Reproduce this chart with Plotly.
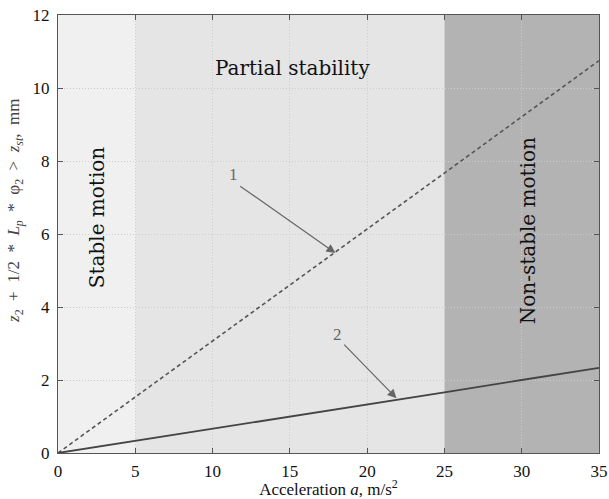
import plotly.graph_objects as go

accel = [0, 5, 10, 15, 20, 25, 30, 35]
curve1 = [0, 1.53, 3.07, 4.60, 6.14, 7.67, 9.21, 10.75]
curve2 = [0, 0.33, 0.67, 1.00, 1.33, 1.66, 2.00, 2.33]

regions = [(0, 5, "#f0f0f0"), (5, 25, "#e5e5e5"), (25, 35, "#b3b3b3")]
x_ticks = [0, 5, 10, 15, 20, 25, 30, 35]
y_ticks = [0, 2, 4, 6, 8, 10, 12]

SERIF = "Liberation Serif"
SERIF2 = "DejaVu Serif"

fig = go.Figure()
fig.add_trace(go.Scatter(x=accel, y=curve1, mode="lines",
                         line=dict(color="#555555", width=1.6, dash="4px,3px"),
                         showlegend=False, hoverinfo="skip"))
fig.add_trace(go.Scatter(x=accel, y=curve2, mode="lines",
                         line=dict(color="#444444", width=1.8),
                         showlegend=False, hoverinfo="skip"))

for x0, x1, c in regions:
    fig.add_shape(type="rect", x0=x0, x1=x1, y0=0, y1=12, xref="x", yref="y",
                  fillcolor=c, line=dict(width=0), layer="below")

# arrows
arrows = [((11.69, 7.34), (17.95, 5.48)), ((18.42, 3.01), (21.9, 1.50))]
for (tx, ty), (hx, hy) in arrows:
    fig.add_annotation(x=hx, y=hy, ax=tx, ay=ty, xref="x", yref="y",
                       axref="x", ayref="y", text="", showarrow=True,
                       arrowhead=2, arrowsize=1.5, arrowwidth=1.2,
                       arrowcolor="#666666", standoff=0)

labels = [(11.34, 7.62, "1", SERIF, 17, 0, "#666666"),
          (18.08, 3.26, "2", SERIF, 17, 0, "#666666"),
          (15.2, 10.56, "Partial stability", SERIF2, 20, 0, "#111111"),
          (2.5, 6.45, "Stable motion", SERIF2, 20, -90, "#111111"),
          (30.4, 6.1, "Non-stable motion", SERIF2, 20, -90, "#111111")]
for x, y, t, fam, s, ang, col in labels:
    fig.add_annotation(x=x, y=y, xref="x", yref="y", text=t, showarrow=False,
                       textangle=ang, font=dict(family=fam, size=s, color=col))

# y-axis title (placed as in the reference, slightly above centre)
ytitle = ("<i>z</i><sub>2</sub>&nbsp; +&nbsp; 1/2&nbsp; *&nbsp; <i>L<sub>p</sub></i>&nbsp; *&nbsp; "
          "φ<sub>2</sub>&nbsp; &gt;&nbsp; <i>z<sub>st</sub></i>,&nbsp; mm")
fig.add_annotation(x=-0.0795, y=0.5525, xref="paper", yref="paper", text=ytitle,
                   showarrow=False, textangle=-90, xanchor="center", yanchor="middle",
                   font=dict(family=SERIF, size=17, color="#444444"))

axis_common = dict(showline=True, linecolor="#555555", linewidth=1.2, mirror="ticks",
                   ticks="inside", ticklen=5, tickcolor="#555555",
                   showgrid=True, gridcolor="#cccccc", griddash="1px,2px", gridwidth=1,
                   zeroline=False, automargin=False,
                   tickfont=dict(family=SERIF, size=17, color="#111111"))

fig.update_xaxes(range=[0, 35], tickvals=x_ticks, ticklabelstandoff=2,
                 title=dict(text="Acceleration <i>a</i>, m/s<sup>2</sup>",
                            font=dict(family=SERIF, size=17, color="#111111"), standoff=2),
                 **axis_common)
fig.update_yaxes(range=[0, 12], tickvals=y_ticks, ticklabelstandoff=4,
                 **axis_common)

fig.update_layout(width=609, height=499, margin=dict(l=58, r=10, t=15, b=46),
                  paper_bgcolor="white", plot_bgcolor="white")

fig.write_html("out.html", config={"displayModeBar": False},
               post_script="document.body.style.margin='0';document.body.style.padding='0';")
